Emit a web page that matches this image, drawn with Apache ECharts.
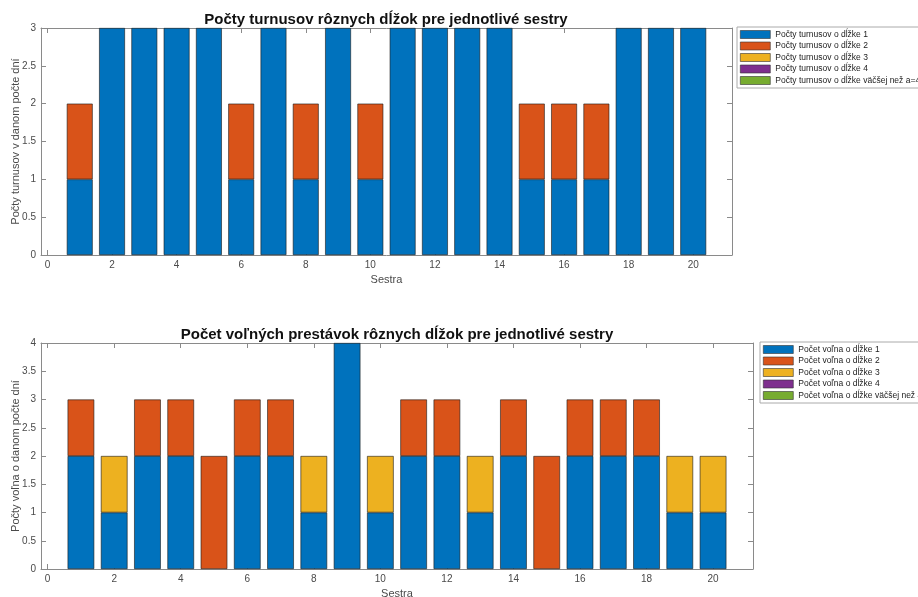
<!DOCTYPE html>
<html>
<head>
<meta charset="utf-8">
<script src="https://cdn.jsdelivr.net/npm/echarts@6/dist/echarts.min.js"></script>
<style>
html,body{margin:0;padding:0;background:#fff;}
#chart{width:918px;height:597px;}
</style>
</head>
<body>
<div id="chart"></div>
<script>
// Nurses 1..20
const sestry = [1,2,3,4,5,6,7,8,9,10,11,12,13,14,15,16,17,18,19,20];

// Shift counts by length (top panel)
const turnusy1 = [1,3,3,3,3,1,3,1,3,1,3,3,3,3,1,1,1,3,3,3];
const turnusy2 = [1,0,0,0,0,1,0,1,0,1,0,0,0,0,1,1,1,0,0,0];
const turnusy3 = [0,0,0,0,0,0,0,0,0,0,0,0,0,0,0,0,0,0,0,0];
const turnusy4 = [0,0,0,0,0,0,0,0,0,0,0,0,0,0,0,0,0,0,0,0];
const turnusy5 = [0,0,0,0,0,0,0,0,0,0,0,0,0,0,0,0,0,0,0,0];

// Free-day break counts by length (bottom panel)
const volno1 = [2,1,2,2,0,2,2,1,4,1,2,2,1,2,0,2,2,2,1,1];
const volno2 = [1,0,1,1,2,1,1,0,0,0,1,1,0,1,2,1,1,1,0,0];
const volno3 = [0,1,0,0,0,0,0,1,0,1,0,0,1,0,0,0,0,0,1,1];
const volno4 = [0,0,0,0,0,0,0,0,0,0,0,0,0,0,0,0,0,0,0,0];
const volno5 = [0,0,0,0,0,0,0,0,0,0,0,0,0,0,0,0,0,0,0,0];

const nazvyTurnusy = ['Počty turnusov o dĺžke 1','Počty turnusov o dĺžke 2','Počty turnusov o dĺžke 3','Počty turnusov o dĺžke 4','Počty turnusov o dĺžke väčšej než a=4'];
const nazvyVolno = ['Počet voľna o dĺžke 1','Počet voľna o dĺžke 2','Počet voľna o dĺžke 3','Počet voľna o dĺžke 4','Počet voľna o dĺžke väčšej než 4'];

const xTicks = [0,2,4,6,8,10,12,14,16,18,20];
const yTicksTop = [0,0.5,1,1.5,2,2.5,3];
const yTicksBottom = [0,0.5,1,1.5,2,2.5,3,3.5,4];

const farby = ['#0072BD','#D95319','#EDB120','#7E2F8E','#77AC30'];
const FONT = 'Liberation Sans';
const AXIS_COLOR = '#8a8a8a';
const LABEL_COLOR = '#4a4a4a';

function xAxes(gridIndex) {
  const base = {
    type: 'value', gridIndex, min: -0.2, max: 21.2,
    splitLine: {show:false},
    axisLine: {show:true, onZero:false, lineStyle:{color:AXIS_COLOR, width:1}},
    axisTick: {show:true, inside:true, length:5, customValues:xTicks, lineStyle:{color:AXIS_COLOR}},
  };
  return [
    Object.assign({}, base, {
      position:'bottom',
      axisLabel:{show:true, customValues:xTicks, margin:5, color:LABEL_COLOR, fontFamily:FONT, fontSize:10},
      name:'Sestra', nameLocation:'middle', nameGap:19,
      nameTextStyle:{color:LABEL_COLOR, fontFamily:FONT, fontSize:11}
    }),
    Object.assign({}, base, {position:'top', axisLabel:{show:false}})
  ];
}
function yAxes(gridIndex, max, ticks, name) {
  const base = {
    type:'value', gridIndex, min:0, max,
    splitLine:{show:false},
    axisLine:{show:true, onZero:false, lineStyle:{color:AXIS_COLOR, width:1}},
    axisTick:{show:true, inside:true, length:5, customValues:ticks, lineStyle:{color:AXIS_COLOR}},
  };
  return [
    Object.assign({}, base, {
      position:'left',
      axisLabel:{show:true, customValues:ticks, margin:5, color:LABEL_COLOR, fontFamily:FONT, fontSize:10},
      name, nameLocation:'middle', nameGap:20, nameMoveOverlap:false,
      nameTextStyle:{color:LABEL_COLOR, fontFamily:FONT, fontSize:11}
    }),
    Object.assign({}, base, {position:'right', axisLabel:{show:false}})
  ];
}

// Each row is [count, nurse]; the count is listed first so it is the stacked dimension.
// Empty segments keep their zero value but get no outline.
function stackSeries(values, names, xIdx, yIdx, stack) {
  return values.map((arr, i) => ({
    type:'bar', name:names[i], stack, xAxisIndex:xIdx, yAxisIndex:yIdx,
    barWidth:'80%',
    encode:{x:1, y:0},
    itemStyle:{color:farby[i], borderColor:'#1a1a1a', borderWidth:0.6},
    emphasis:{disabled:true},
    data: sestry.map((s, j) => arr[j] === 0
      ? {value:[arr[j], s], itemStyle:{borderWidth:0}}
      : [arr[j], s])
  }));
}

const legendBase = {
  orient:'vertical', itemWidth:30, itemHeight:8, itemGap:2.5,
  padding:[3,4,3,3], borderColor:'#aaaaaa', borderWidth:1, backgroundColor:'#fff',
  textStyle:{fontFamily:FONT, fontSize:8.5, color:'#222'},
  itemStyle:{borderColor:'#333', borderWidth:0.6},
  icon:'rect', selectedMode:false
};

const option = {
  animation:false,
  backgroundColor:'#fff',
  title:[
    {text:'Počty turnusov rôznych dĺžok pre jednotlivé sestry', left:381, top:7, textAlign:'center',
     textStyle:{fontFamily:FONT, fontSize:15, fontWeight:'bold', color:'#111'}},
    {text:'Počet voľných prestávok rôznych dĺžok pre jednotlivé sestry', left:392, top:322, textAlign:'center',
     textStyle:{fontFamily:FONT, fontSize:15, fontWeight:'bold', color:'#111'}}
  ],
  legend:[
    Object.assign({}, legendBase, {left:737, top:27, data:nazvyTurnusy}),
    Object.assign({}, legendBase, {left:760, top:342, data:nazvyVolno})
  ],
  grid:[
    {left:41, top:28, width:691, height:227, outerBoundsMode:'none'},
    {left:41, top:343, width:712, height:226, outerBoundsMode:'none'}
  ],
  xAxis:[...xAxes(0), ...xAxes(1)],
  yAxis:[...yAxes(0, 3, yTicksTop, 'Počty turnusov v danom počte dní'),
         ...yAxes(1, 4, yTicksBottom, 'Počty voľna o danom počte dní')],
  series:[
    ...stackSeries([turnusy1,turnusy2,turnusy3,turnusy4,turnusy5], nazvyTurnusy, 0, 0, 'turnusy'),
    ...stackSeries([volno1,volno2,volno3,volno4,volno5], nazvyVolno, 2, 2, 'volno')
  ]
};

const chart = echarts.init(document.getElementById('chart'), null, {renderer:'canvas'});
chart.setOption(option);
</script>
</body>
</html>
